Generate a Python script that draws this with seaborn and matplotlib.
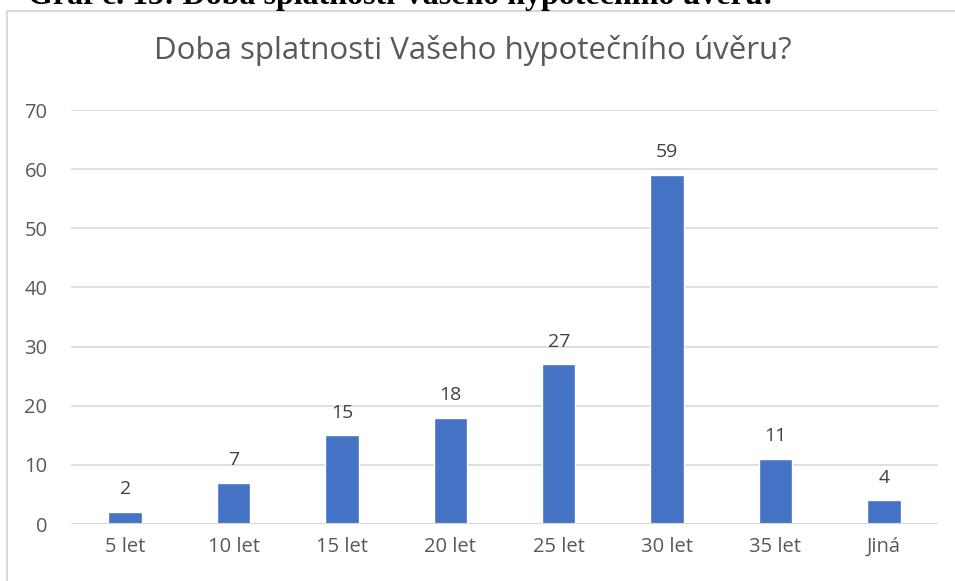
import matplotlib
matplotlib.use("Agg")
import matplotlib.pyplot as plt
import seaborn as sns
import pandas as pd

kategorie = ["5 let", "10 let", "15 let", "20 let", "25 let", "30 let", "35 let", "Jiná"]
pocty = [2, 7, 15, 18, 27, 59, 11, 4]

sns.set_style("white")
plt.rcParams['font.family'] = ['Open Sans', 'DejaVu Sans']

data = pd.DataFrame({'doba': kategorie, 'pocet': pocty})

fig = plt.figure(figsize=(9.55, 5.81), dpi=100)
ax = fig.add_axes([71 / 955, 1 - 524 / 581, 867 / 955, (524 - 110) / 581])

sns.barplot(x='doba', y='pocet', data=data, color='#4472C4', saturation=1,
            width=0.31, ax=ax, zorder=3)

ax.set_ylim(0, 70)
ax.set_xlim(-0.5, len(kategorie) - 0.5)
ax.set_yticks(range(0, 71, 10))
ax.yaxis.grid(True, color='#D9D9D9', linewidth=1.2, zorder=0)
for s in ax.spines.values():
    s.set_visible(False)
ax.axhline(0, color='#D9D9D9', linewidth=1.5, zorder=4)
ax.tick_params(axis='both', length=0, labelsize=14.5, colors='#595959')
ax.tick_params(axis='y', pad=17)
ax.tick_params(axis='x', pad=9)
ax.set_xlabel('')
ax.set_ylabel('')

for i, v in enumerate(pocty):
    ax.text(i, v + 3.0, str(v), ha='center', va='baseline', fontsize=14, color='#404040')

fig.text(473 / 955, 1 - 51 / 581, 'Doba splatnosti Vašeho hypotečního úvěru?',
         ha='center', va='center', fontsize=22.5, color='#595959')

# okraj grafu
fig.add_artist(plt.Line2D([7 / 955, 7 / 955], [0, 1 - 11 / 581], color='#D9D9D9', linewidth=1.5))
fig.add_artist(plt.Line2D([7 / 955, 1], [1 - 11 / 581, 1 - 11 / 581], color='#D9D9D9', linewidth=1.5))

# oříznutý nadpis nad grafem
fig.text(28 / 955, 1 - 4 / 581, 'Graf č. 15: Doba splatnosti Vašeho hypotečního úvěru:',
         ha='left', va='baseline', fontsize=23, fontweight='bold',
         family=['Liberation Serif', 'DejaVu Serif'], color='black')

fig.savefig('out.png', dpi=100)
